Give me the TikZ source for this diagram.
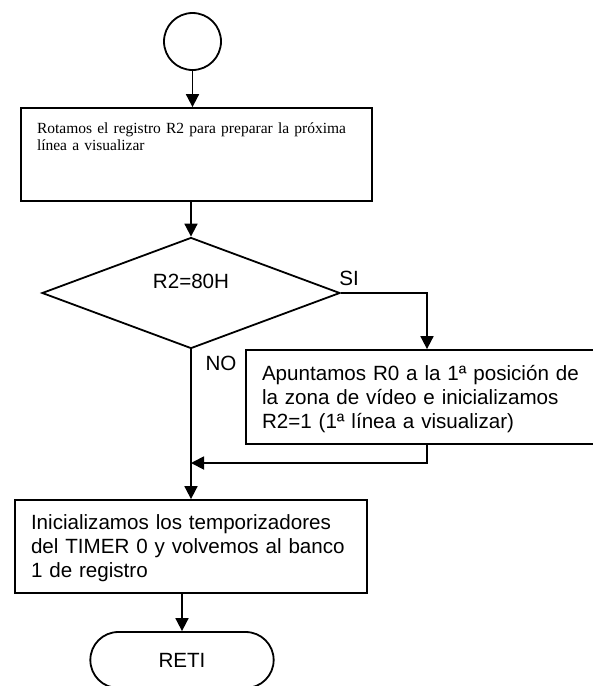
\documentclass[tikz,border=0pt]{standalone}
\usepackage{fontspec}
\setmainfont{Liberation Sans}
\newfontfamily\timesfont{Liberation Serif}
\usetikzlibrary{shapes.geometric,shapes.misc,arrows.meta}

\begin{document}
\begin{tikzpicture}[x=1pt, y=-1pt, line width=1.8pt,
    every node/.style={font=\fontsize{20.6}{24}\selectfont},
    process/.style={draw, rectangle, align=left, inner xsep=16pt, inner ysep=0pt},
    decision/.style={draw, diamond, minimum width=298pt, minimum height=111pt, inner sep=0pt},
    flow/.style={-{Triangle[length=13pt,width=13pt]}}]
    \useasboundingbox (0,0) rectangle (593,686);

    % Start
    \node[draw, circle, minimum size=57pt, inner sep=0pt] (start) at (192.5,41.5) {};

    % Rotate R2
    \node[process, text width=319pt, text height=25pt, text depth=68pt,
          font=\timesfont\fontsize{15.5}{17}\selectfont] (rotate) at (196.5,154.5)
        {Rotamos el registro R2 para preparar la próxima\\línea a visualizar};

    % Test R2
    \node[decision, label={[yshift=12pt]center:R2=80H}] (check) at (191,293) {};
    \node (si) at (349,278) {SI};
    \node (no) at (221,363) {NO};

    % Reset R0 and R2
    \node[process, text width=317pt, text height=30pt, text depth=64pt] (reset) at (420.5,397)
        {Apuntamos R0 a la 1ª posición de\\la zona de vídeo e inicializamos\\R2=1 (1ª línea a visualizar)};

    % Timers and bank
    \node[process, text width=320pt, text height=29pt, text depth=64pt] (timers) at (191,546.5)
        {Inicializamos los temporizadores\\del TIMER 0 y volvemos al banco\\1 de registro};

    % End
    \node[draw, rounded rectangle, minimum width=190pt, minimum height=56pt] (reti) at (182,660) {RETI};

    % Arrows
    \draw[flow] (start.south) -- (start.south |- rotate.north);
    \draw[flow] (check.north |- rotate.south) -- (check.north);
    \draw[flow] (check.east) -| ([xshift=6.5pt]reset.north);
    \draw[flow] (check.south) -- (check.south |- timers.north);
    \coordinate (merge) at (check.south |- 0,463);
    \draw[flow] ([xshift=6.5pt]reset.south) |- (merge);
    \draw[flow] (reti.north |- timers.south) -- (reti.north);
\end{tikzpicture}
\end{document}
